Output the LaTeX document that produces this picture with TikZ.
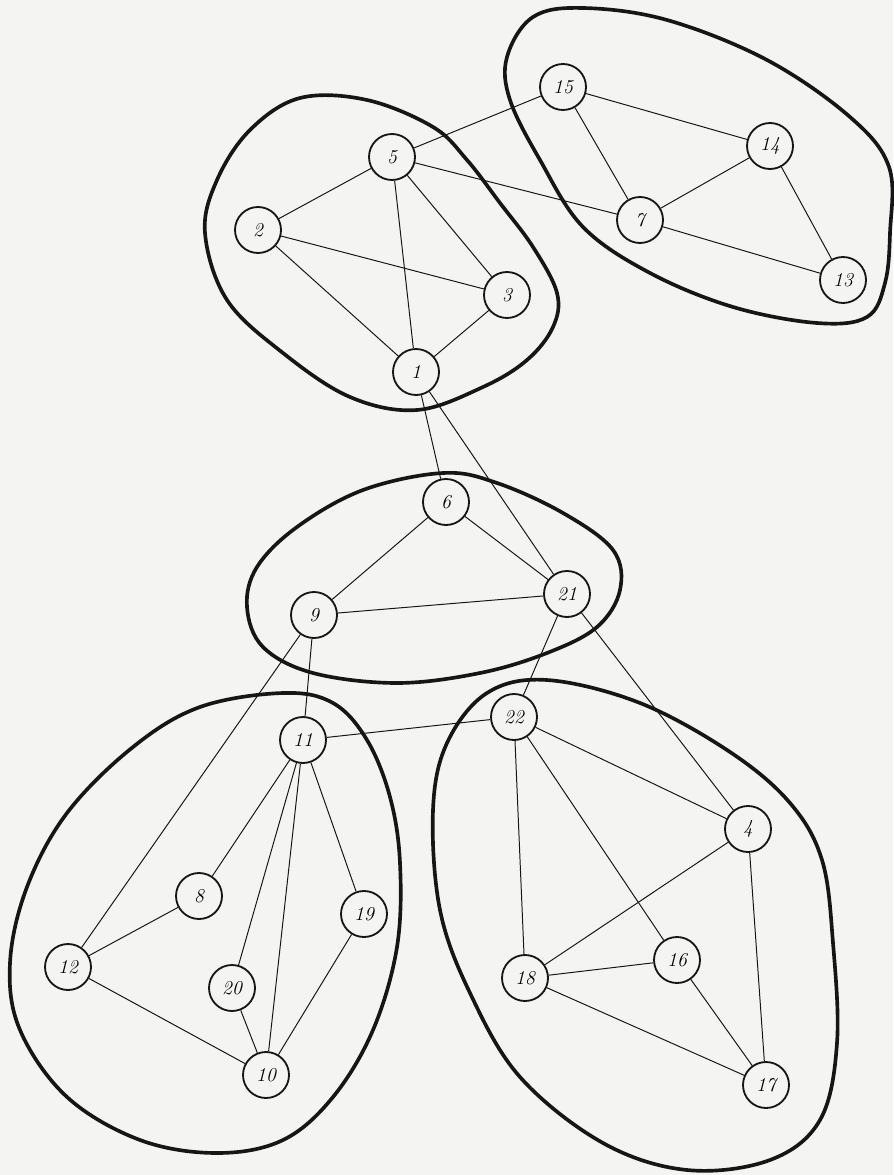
\documentclass[tikz,border=0pt]{standalone}
\usepackage{tikz}
\definecolor{paper}{RGB}{244,244,242}
\definecolor{ink}{RGB}{22,22,22}

\begin{document}
\begin{tikzpicture}[x=0.025cm, y=-0.025cm,
  vertex/.style={circle, draw=ink, line width=1.3pt, fill=paper,
    minimum size=1.15cm, inner sep=0pt, font=\fontsize{14}{14}\selectfont\itshape},
  link/.style={draw=ink, line width=0.7pt},
  cluster/.style={draw=ink, line width=2.6pt, line join=round}]
  \useasboundingbox (0,0) rectangle (893,1175);
  \fill[paper] (0,0) rectangle (893,1175);

  % clusters
  \draw[cluster] plot[smooth cycle, tension=0.6] coordinates {(300,98) (367,100) (433,127) (467,160) (500,203) (533,247) (557,293) (553,327) (527,360) (483,387) (417,410) (350,397) (283,353) (227,300) (205,233) (217,180) (250,130)};
  \draw[cluster] plot[smooth cycle, tension=0.6] coordinates {(533,17) (583,8) (667,20) (767,60) (850,117) (889,167) (890,233) (885,283) (867,317) (817,323) (733,307) (650,273) (583,227) (540,160) (510,100) (507,57)};
  \draw[cluster] plot[smooth cycle, tension=0.6] coordinates {(443,473) (497,483) (563,513) (613,550) (620,590) (597,627) (547,653) (480,673) (397,683) (313,673) (263,647) (247,607) (257,567) (297,527) (363,490)};
  \draw[cluster] plot[smooth cycle, tension=0.6] coordinates {(283,693) (333,703) (367,740) (390,797) (400,863) (397,947) (373,1030) (333,1097) (283,1140) (217,1153) (140,1140) (67,1097) (20,1030) (10,963) (27,887) (67,813) (133,747) (200,707)};
  \draw[cluster] plot[smooth cycle, tension=0.6] coordinates {(547,680) (640,703) (730,752) (790,803) (822,860) (833,943) (837,1043) (820,1120) (770,1160) (687,1170) (603,1143) (520,1077) (470,993) (440,910) (433,810) (447,743) (487,693)};

  % vertices
  \foreach \n/\x/\y in {1/416/372, 2/258/230, 3/507/295, 4/748/829, 5/392/157,
      6/446/502, 7/640/220, 8/199/896, 9/314/615, 10/266/1075, 11/303/740,
      12/68/967, 13/843/280, 14/770/146, 15/563/87, 16/677/960, 17/766/1085,
      18/525/978, 19/364/914, 20/232/988, 21/567/594, 22/514/717}
    \node[vertex] (v\n) at (\x,\y) {\n};

  % edges
  \foreach \a/\b in {15/5, 15/14, 15/7, 14/7, 14/13, 7/13, 5/7, 5/2, 5/3, 5/1,
      2/3, 2/1, 3/1, 1/6, 1/21, 6/9, 6/21, 9/21, 9/11, 9/12, 21/22, 21/4,
      22/11, 22/4, 22/18, 22/16, 4/18, 4/17, 18/16, 18/17, 16/17,
      11/8, 11/19, 11/20, 11/10, 8/12, 12/10, 20/10, 19/10}
    \draw[link] (v\a) -- (v\b);
\end{tikzpicture}
\end{document}
